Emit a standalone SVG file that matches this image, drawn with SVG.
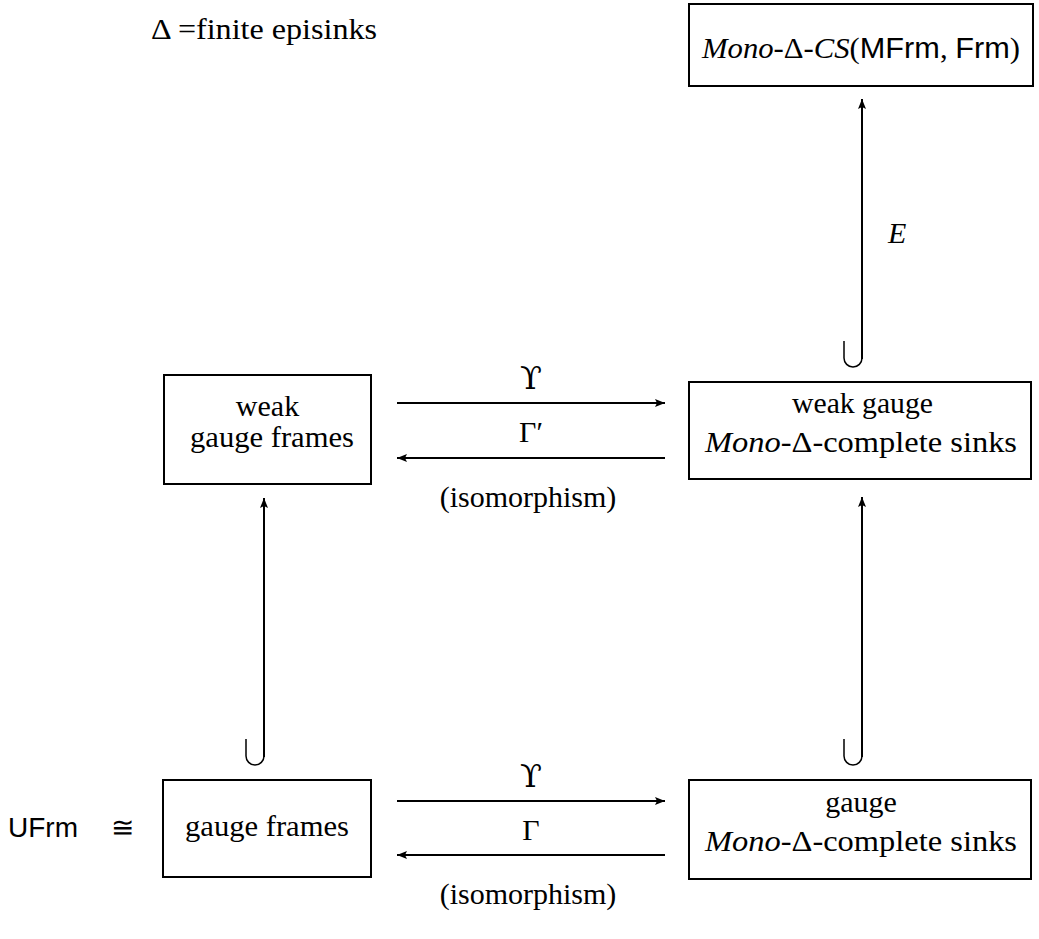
<svg xmlns="http://www.w3.org/2000/svg" width="1039" height="939" viewBox="0 0 1039 939">
  <style>
    .box { fill: none; stroke: #000; stroke-width: 2; }
    .t { font-family: "Liberation Serif", "DejaVu Serif", serif; font-size: 30px; fill: #000; }
    .g { font-family: "DejaVu Serif", "Liberation Serif", serif; font-size: 32px; fill: #000; }
    .it { font-style: italic; }
    .sf { font-family: "Liberation Sans", "DejaVu Sans", sans-serif; }
    .ln { fill: none; stroke: #000; stroke-width: 2; }
    .hook { fill: none; stroke: #000; stroke-width: 1.5; }
  </style>
  <defs>
    <marker id="ah" viewBox="0 0 10 8" refX="10" refY="4" markerWidth="10" markerHeight="8" markerUnits="userSpaceOnUse" orient="auto">
      <path d="M0,0 L10,4 L0,8 L2,4 Z" fill="#000"/>
    </marker>
  </defs>

  <rect width="1039" height="939" fill="#fff"/>

  <!-- legend -->
  <text class="t" x="151" y="39" textLength="226" lengthAdjust="spacingAndGlyphs">Δ =finite episinks</text>

  <!-- top: Mono-Δ-CS(MFrm, Frm) -->
  <g id="cs">
    <rect class="box" x="689" y="4" width="344" height="82"/>
    <text class="t" x="702" y="58" textLength="318" lengthAdjust="spacingAndGlyphs"><tspan class="it">Mono</tspan>-Δ-<tspan class="it">CS</tspan>(<tspan class="sf">MFrm</tspan>, <tspan class="sf">Frm</tspan>)</text>
  </g>

  <!-- weak gauge frames -->
  <g id="weak-frames">
    <rect class="box" x="164" y="375" width="207" height="109"/>
    <text class="t" x="267.5" y="416" text-anchor="middle">weak</text>
    <text class="t" x="190" y="447" textLength="164" lengthAdjust="spacingAndGlyphs">gauge frames</text>
  </g>

  <!-- weak gauge complete sinks -->
  <g id="weak-sinks">
    <rect class="box" x="689" y="382" width="342" height="97"/>
    <text class="t" x="792" y="413" textLength="141" lengthAdjust="spacingAndGlyphs">weak gauge</text>
    <text class="t" x="705" y="452" textLength="312" lengthAdjust="spacingAndGlyphs"><tspan class="it">Mono</tspan>-Δ-complete sinks</text>
  </g>

  <!-- gauge frames -->
  <g id="frames">
    <rect class="box" x="163" y="780" width="208" height="97"/>
    <text class="t" x="185" y="836" textLength="164" lengthAdjust="spacingAndGlyphs">gauge frames</text>
  </g>

  <!-- gauge complete sinks -->
  <g id="sinks">
    <rect class="box" x="689" y="780" width="342" height="99"/>
    <text class="t" x="861" y="812" text-anchor="middle">gauge</text>
    <text class="t" x="705" y="851" textLength="312" lengthAdjust="spacingAndGlyphs"><tspan class="it">Mono</tspan>-Δ-complete sinks</text>
  </g>

  <!-- UFrm ≅ -->
  <g id="ufrm">
    <text class="t sf" x="8" y="837" style="font-size:28px">UFrm</text>
    <text class="t" x="111" y="837" style="font-size:28px">≅</text>
  </g>

  <!-- connectors -->
  <g id="connectors">
    <!-- upper pair -->
    <line class="ln" x1="397" y1="403" x2="665" y2="403" marker-end="url(#ah)"/>
    <line class="ln" x1="665" y1="458" x2="397" y2="458" marker-end="url(#ah)"/>
    <text class="g" x="531" y="389" text-anchor="middle">ϒ</text>
    <text class="t" x="531" y="442" text-anchor="middle">Γ′</text>
    <text class="t" x="528" y="507" text-anchor="middle">(isomorphism)</text>

    <!-- lower pair -->
    <line class="ln" x1="397" y1="801" x2="665" y2="801" marker-end="url(#ah)"/>
    <line class="ln" x1="665" y1="855" x2="397" y2="855" marker-end="url(#ah)"/>
    <text class="g" x="531" y="787" text-anchor="middle">ϒ</text>
    <text class="t" x="531" y="840" text-anchor="middle">Γ</text>
    <text class="t" x="528" y="904" text-anchor="middle">(isomorphism)</text>

    <!-- inclusions -->
    <line class="ln" x1="264" y1="757" x2="264" y2="498" marker-end="url(#ah)"/>
    <path class="hook" d="M246,739 V756 A9,9 0 0 0 264,756"/>

    <line class="ln" x1="862" y1="757" x2="862" y2="497" marker-end="url(#ah)"/>
    <path class="hook" d="M844,739 V756 A9,9 0 0 0 862,756"/>

    <line class="ln" x1="862" y1="359" x2="862" y2="99" marker-end="url(#ah)"/>
    <path class="hook" d="M844,341 V358 A9,9 0 0 0 862,358"/>
    <text class="t it" x="888" y="243">E</text>
  </g>
</svg>
